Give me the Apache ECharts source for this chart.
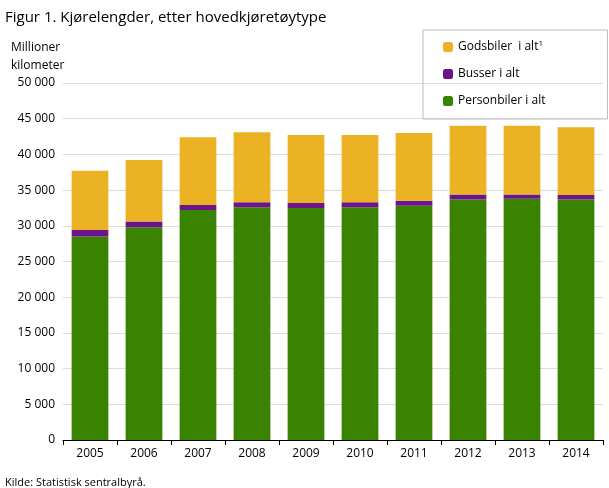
<!DOCTYPE html>
<html><head><meta charset="utf-8">
<script src="https://cdn.jsdelivr.net/npm/echarts@6/dist/echarts.min.js"></script>
<style>body{margin:0;background:#fff}#c{width:609px;height:488px}</style></head>
<body><div id="c"></div>
<script>
const years=['2005','2006','2007','2008','2009','2010','2011','2012','2013','2014'];
const personbiler=[28500,29800,32200,32600,32500,32600,32800,33700,33800,33700];
const busser=[900,800,700,700,700,700,700,700,600,600];
const godsbiler=[8300,8600,9500,9800,9500,9400,9500,9600,9600,9500];
const ticks=[0,5000,10000,15000,20000,25000,30000,35000,40000,45000,50000];
const fmt=v=>v===0?'0':String(v).replace(/\B(?=(\d{3})+(?!\d))/g,' ');
const ch=echarts.init(document.getElementById('c'));
const f='Open Sans';
ch.setOption({
 animation:false,
 textStyle:{fontFamily:f},
 title:[{text:'Figur 1. Kjørelengder, etter hovedkjøretøytype',left:0,top:5,textStyle:{fontSize:15,fontWeight:'normal',color:'#000',fontFamily:f}},
  {text:'Millioner\nkilometer',left:6,top:34,textStyle:{fontSize:12,fontWeight:'normal',color:'#000',lineHeight:18,fontFamily:f}},
  {text:'Kilde: Statistisk sentralbyrå.',left:0,top:472,textStyle:{fontSize:11,fontWeight:'normal',color:'#000',fontFamily:f}}],
 legend:{orient:'vertical',left:423,top:30,itemWidth:10,itemHeight:10,itemGap:15,padding:[10,62,12,20],
  borderColor:'#bbb',borderWidth:1,
  data:['Godsbiler  i alt','Busser i alt','Personbiler i alt'],
  formatter:n=>n==='Godsbiler  i alt'?'{a|Godsbiler  i alt}{s|1}':'{a|'+n+'}',
  textStyle:{rich:{a:{fontSize:12,color:'#000',fontFamily:f},s:{fontSize:8,verticalAlign:'top',padding:[0,0,6,0],color:'#000'}}}},
 grid:{left:63,right:6,top:83,bottom:48},
 xAxis:{type:'category',data:years,axisTick:{show:true,lineStyle:{color:'#000'}},axisLine:{lineStyle:{color:'#000'}},axisLabel:{color:'#000',fontSize:12}},
 yAxis:{type:'value',min:0,max:50000,interval:5000,axisLabel:{color:'#000',fontSize:12,formatter:fmt},splitLine:{lineStyle:{color:'#ddd'}},axisLine:{show:false}},
 series:[
  {name:'Personbiler i alt',type:'bar',stack:'a',data:personbiler,barWidth:'68%',itemStyle:{color:'#3a8300'}},
  {name:'Busser i alt',type:'bar',stack:'a',data:busser,itemStyle:{color:'#6b148c'}},
  {name:'Godsbiler  i alt',type:'bar',stack:'a',data:godsbiler,itemStyle:{color:'#ebb224'}}
 ]
});
</script></body></html>
